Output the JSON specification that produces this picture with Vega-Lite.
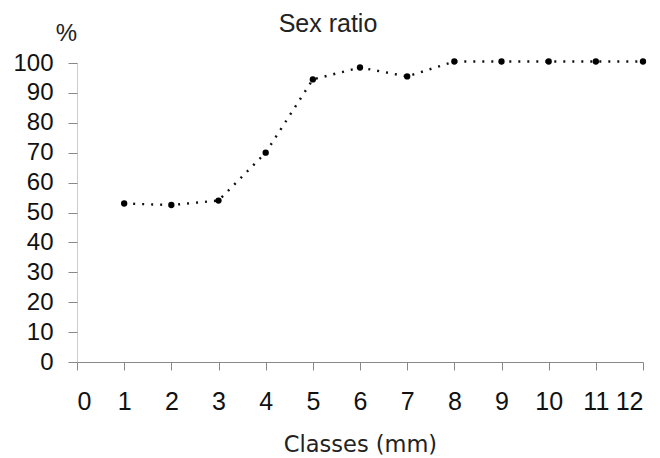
{
  "$schema": "https://vega.github.io/schema/vega-lite/v6.json",
  "width": 566,
  "height": 299,
  "autosize": {"type": "none"},
  "padding": {"left": 77, "top": 63, "right": 17, "bottom": 96},
  "background": "white",
  "title": {
    "text": "Sex ratio",
    "font": "Liberation Sans",
    "fontSize": 25,
    "fontWeight": "normal",
    "color": "#222",
    "anchor": "middle",
    "baseline": "alphabetic",
    "dx": -32,
    "offset": -36
  },
  "config": {"view": {"stroke": null}},
  "data": {
    "values": [
      {"cls": 1, "ratio": 53},
      {"cls": 2, "ratio": 52.5},
      {"cls": 3, "ratio": 54},
      {"cls": 4, "ratio": 70},
      {"cls": 5, "ratio": 94.5},
      {"cls": 6, "ratio": 98.5},
      {"cls": 7, "ratio": 95.5},
      {"cls": 8, "ratio": 100.5},
      {"cls": 9, "ratio": 100.5},
      {"cls": 10, "ratio": 100.5},
      {"cls": 11, "ratio": 100.5},
      {"cls": 12, "ratio": 100.5}
    ]
  },
  "encoding": {
    "x": {
      "field": "cls",
      "type": "quantitative",
      "scale": {"domain": [0, 12], "nice": false},
      "axis": {
        "title": "Classes (mm)",
        "values": [0,1,2,3,4,5,6,7,8,9,10,11,12],
        "grid": false,
        "domainColor": "#888",
        "tickColor": "#888",
        "tickSize": 8,
        "labelFont": "Liberation Sans",
        "labelFontSize": 25,
        "labelColor": "#111",
        "labelBaseline": "alphabetic",
        "labelPadding": 39,
        "titleFont": "DejaVu Sans",
        "titleFontSize": 22.5,
        "titleFontWeight": "normal",
        "titleColor": "#222",
        "titleBaseline": "alphabetic",
        "titleY": 89
      }
    },
    "y": {
      "field": "ratio",
      "type": "quantitative",
      "scale": {"domain": [0, 100], "nice": false},
      "axis": {
        "title": "%",
        "titleAngle": 0,
        "titleX": -11,
        "titleY": -23,
        "titleAlign": "center",
        "titleBaseline": "alphabetic",
        "titleFont": "Liberation Sans",
        "titleFontSize": 24,
        "titleFontWeight": "normal",
        "titleColor": "#222",
        "values": [0,10,20,30,40,50,60,70,80,90,100],
        "grid": false,
        "domainColor": "#999",
        "domainDash": [1, 1],
        "tickColor": "#888",
        "tickSize": 9,
        "labelFont": "Liberation Sans",
        "labelFontSize": 24,
        "labelColor": "#111",
        "labelPadding": 15
      }
    }
  },
  "layer": [
    {
      "mark": {"type": "line", "color": "#111", "strokeWidth": 2.4, "strokeDash": [2, 7], "clip": false}
    },
    {
      "mark": {"type": "point", "filled": true, "color": "#000", "size": 40, "opacity": 1, "clip": false}
    }
  ]
}
